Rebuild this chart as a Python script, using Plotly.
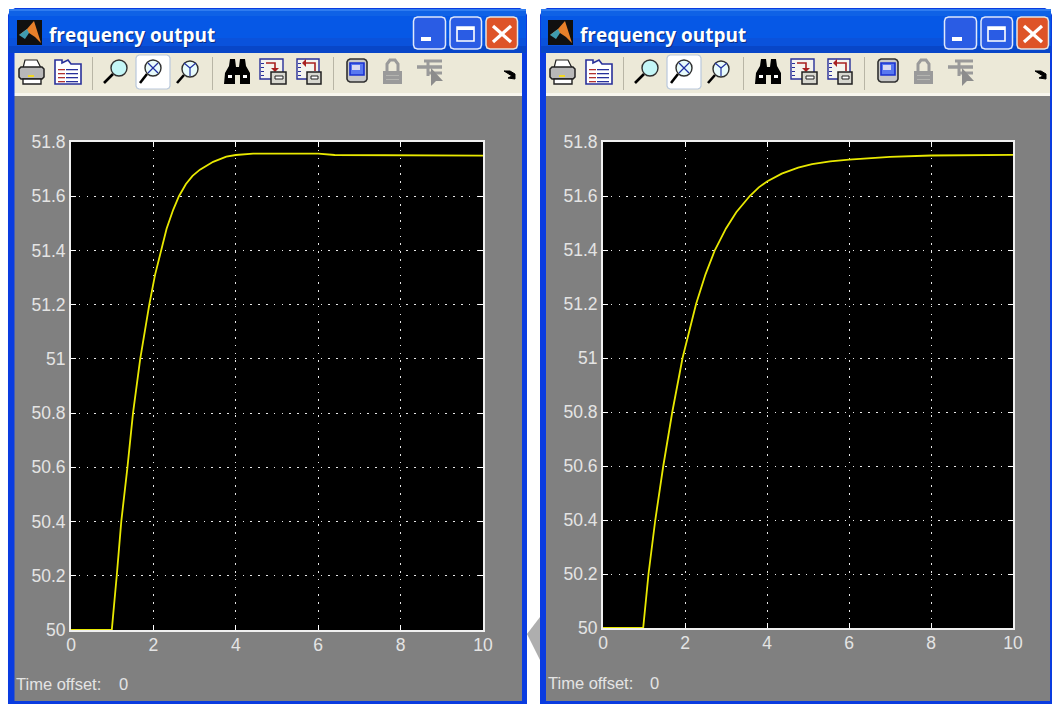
import plotly.graph_objects as go

W, H = 1052, 704

# ---- data ----
title_text = "frequency output"
x_ticks = [0, 2, 4, 6, 8, 10]
y_ticks = [50, 50.2, 50.4, 50.6, 50.8, 51, 51.2, 51.4, 51.6, 51.8]
y_tick_labels = ["50", "50.2", "50.4", "50.6", "50.8", "51", "51.2", "51.4", "51.6", "51.8"]

left_t = [0, 0.99, 1.11, 1.22, 1.37, 1.505, 1.68, 1.90, 2.04, 2.18, 2.32, 2.48, 2.62, 2.79, 2.95, 3.13, 3.45, 3.77, 4.0, 4.42, 5.0, 6.0, 6.4, 8.0, 10.0]
left_v = [50, 50, 50.2, 50.4, 50.6, 50.8, 51.0, 51.2, 51.31, 51.4, 51.48, 51.55, 51.6, 51.645, 51.675, 51.698, 51.727, 51.746, 51.752, 51.757, 51.758, 51.757, 51.752, 51.751, 51.75]

right_t = [0, 0.98, 1.11, 1.275, 1.47, 1.69, 1.94, 2.27, 2.5, 2.73, 3.0, 3.25, 3.58, 3.8, 4.0, 4.36, 4.76, 5.1, 5.54, 6.0, 7.0, 8.0, 10.0]
right_v = [50, 50, 50.2, 50.4, 50.6, 50.8, 51.0, 51.2, 51.31, 51.4, 51.48, 51.54, 51.6, 51.632, 51.654, 51.683, 51.705, 51.718, 51.728, 51.735, 51.745, 51.75, 51.752]

# ---- pixel layout ----
PANELS = [
    dict(dx=0, x0=71, x1=483, y0=142, y1=630, wx0=8, wx1=527, in0=14.5, in1=522, off=16, off0=119, offy=684),
    dict(dx=531, x0=603, x1=1013, y0=142, y1=628, wx0=540, wx1=1052, in0=546, in1=1050, off=548, off0=650, offy=683),
]

px = lambda v: v / W
py = lambda v: 1 - v / H

shapes, annos = [], []


def rect(x0, y0, x1, y1, fill, line=None, lw=1):
    shapes.append(dict(type="rect", xref="paper", yref="paper", layer="below",
                       x0=px(x0), x1=px(x1), y0=py(y0), y1=py(y1), fillcolor=fill,
                       line=dict(color=line or fill, width=lw if line else 0)))


def path(points, fill=None, line=None, lw=1, close=True):
    d = "M " + " L ".join(f"{px(a):.5f},{py(b):.5f}" for a, b in points) + (" Z" if close else "")
    shapes.append(dict(type="path", xref="paper", yref="paper", layer="below", path=d,
                       fillcolor=fill or "rgba(0,0,0,0)",
                       line=dict(color=line or "rgba(0,0,0,0)", width=lw if line else 0)))


def rrect(x0, y0, x1, y1, fill, line, lw=1.5, r=4):
    path([(x0 + r, y0), (x1 - r, y0), (x1 - 1, y0 + 1), (x1, y0 + r), (x1, y1 - r), (x1 - 1, y1 - 1), (x1 - r, y1),
          (x0 + r, y1), (x0 + 1, y1 - 1), (x0, y1 - r), (x0, y0 + r), (x0 + 1, y0 + 1)], fill=fill, line=line, lw=lw)


def circle(cx, cy, r, fill, line, lw=1.5):
    shapes.append(dict(type="circle", xref="paper", yref="paper", layer="below",
                       x0=px(cx - r), x1=px(cx + r), y0=py(cy - r), y1=py(cy + r), fillcolor=fill,
                       line=dict(color=line, width=lw)))


def text(x, y, s, size, color, anchor="left", bold=False, family="Liberation Sans"):
    annos.append(dict(xref="paper", yref="paper", x=px(x), y=py(y), text=f"<b>{s}</b>" if bold else s,
                      showarrow=False, xanchor=anchor, yanchor="middle",
                      font=dict(size=size, color=color, family=family), borderpad=0, borderwidth=0))


def magnifier(cx, cy, hx, hy, fill):
    path([(cx - 6, cy + 6), (hx, hy)], line="#000000", lw=2.6, close=False)
    circle(cx, cy, 8, fill, "#303030", 1.4)


def window(p):
    d, a, b = p["dx"], p["wx0"], p["wx1"]
    # blue frame with rounded top
    path([(a, 704), (a, 15), (a + 2, 11), (a + 7, 8), (b - 7, 8), (b - 2, 11), (b, 15), (b, 704)], fill="#0a3ce0")
    # title bar shading
    for y0, y1, c in [(9, 11, "#2f7cf0"), (11, 16, "#0f62e6"), (16, 38, "#0658e6"), (38, 46, "#0a52dc"), (46, 53, "#0846c8")]:
        rect(a + 1, y0, b - 1, y1, c)
    # toolbar and client area
    rect(p["in0"], 53, p["in1"], 93, "#ece9d8")
    rect(p["in0"], 93, p["in1"], 96, "#f8f6ee")
    rect(p["in0"], 96, p["in1"], 701, "#808080")
    # logo
    rect(d + 17, 20, d + 42, 45, "#101010")
    path([(d + 19, 35), (d + 27, 29), (d + 34, 21), (d + 41, 43), (d + 35, 37), (d + 29, 33)], fill="#e8802a")
    path([(d + 19, 35), (d + 27, 29), (d + 29, 33), (d + 25, 39)], fill="#3f9cb0")
    # title, with its shadow
    text(d + 50, 36, title_text, 19, "#0a2c80", bold=True, family="Open Sans")
    text(d + 49, 35, title_text, 19, "#ffffff", bold=True, family="Open Sans")
    # window buttons
    rrect(d + 413.5, 17, d + 445.5, 49, "#2a5ce4", "#dfe8fb")
    rrect(d + 450, 17, d + 481.5, 49, "#2a5ce4", "#dfe8fb")
    rrect(d + 486, 17, d + 517.5, 49, "#de5428", "#e8e4e0")
    rect(d + 421, 37, d + 431, 41, "#ffffff")
    shapes.append(dict(type="rect", xref="paper", yref="paper", layer="below", x0=px(d + 457), x1=px(d + 474),
                       y0=py(41), y1=py(27), fillcolor="rgba(0,0,0,0)", line=dict(color="#ffffff", width=1.6)))
    rect(d + 457, 27, d + 474, 30, "#ffffff")
    path([(d + 493, 26), (d + 511, 42)], line="#ffffff", lw=3.2, close=False)
    path([(d + 511, 26), (d + 493, 42)], line="#ffffff", lw=3.2, close=False)

    # toolbar: printer
    path([(d + 25, 60), (d + 37, 60), (d + 41, 68), (d + 23, 68)], fill="#ffffff", line="#202020", lw=1.2)
    rrect(d + 19, 67, d + 44, 79, "#b8b8b8", "#202020", 1.5, 2)
    rect(d + 23, 79, d + 41, 84, "#ffffff", "#202020", 1.4)
    rect(d + 28, 75, d + 34, 77, "#f0d820")
    # properties sheet
    path([(d + 55, 84), (d + 55, 60), (d + 62, 60), (d + 62, 63), (d + 68, 60), (d + 71, 64), (d + 81, 64), (d + 81, 84)],
         fill="#ffffff", line="#28309a", lw=1.6)
    for yy in (69, 73, 77, 81):
        rect(d + 58, yy, d + 65, yy + 1.3, "#b03030")
        rect(d + 66, yy, d + 78, yy + 1.3, "#28309a")
    # separators
    for sx in (92, 212, 333):
        rect(d + sx, 57, d + sx + 1, 90, "#b8b5a5")
    # zoom buttons
    rrect(d + 136, 55, d + 170, 89, "#ffffff", "#b9c8dc", 1.2, 3)
    magnifier(d + 119, 68, d + 104, 83, "#c4f6f6")
    magnifier(d + 153, 68, d + 140, 83, "#e8fbfb")
    path([(d + 148, 63), (d + 158, 73)], line="#2030a0", lw=1.2, close=False)
    path([(d + 158, 63), (d + 148, 73)], line="#2030a0", lw=1.2, close=False)
    magnifier(d + 190, 69, d + 177, 83, "#e8fbfb")
    path([(d + 190, 68), (d + 190, 76)], line="#2030a0", lw=1.2, close=False)
    path([(d + 190, 68), (d + 184, 63)], line="#2030a0", lw=1.2, close=False)
    path([(d + 190, 68), (d + 196, 63)], line="#2030a0", lw=1.2, close=False)
    # binoculars
    path([(d + 224, 84), (d + 225, 73), (d + 229, 66), (d + 230, 59), (d + 235, 59), (d + 236, 67), (d + 239, 67), (d + 240, 59),
          (d + 245, 59), (d + 246, 66), (d + 250, 73), (d + 250, 84), (d + 240, 84), (d + 240, 75), (d + 235, 75), (d + 235, 84)], fill="#000000")
    rect(d + 228, 75, d + 232, 78, "#ffffff")
    rect(d + 243, 75, d + 247, 78, "#ffffff")
    # save axes
    rect(d + 260, 59, d + 283, 79, "#f4f4ee", "#28309a", 1.4)
    for tk in (63, 67, 71, 75):
        rect(d + 261, tk, d + 264, tk + 1, "#28309a")
    path([(d + 266, 63), (d + 275, 63), (d + 275, 70)], line="#a82020", lw=1.6, close=False)
    path([(d + 271, 68), (d + 279, 68), (d + 275, 72)], fill="#a82020")
    rect(d + 271, 72, d + 286, 84, "#d8d8d0", "#202020", 1.5)
    rect(d + 275, 76, d + 283, 79, "#ffffff", "#202020", 1)
    # load axes
    rect(d + 297, 59, d + 319, 79, "#f4f4ee", "#28309a", 1.4)
    for tk in (63, 67, 71, 75):
        rect(d + 298, tk, d + 301, tk + 1, "#28309a")
    path([(d + 305, 63), (d + 315, 63), (d + 315, 71)], line="#a82020", lw=1.6, close=False)
    path([(d + 306, 59), (d + 306, 67), (d + 302, 63)], fill="#a82020")
    rect(d + 307, 72, d + 321, 84, "#d8d8d0", "#202020", 1.5)
    rect(d + 311, 76, d + 318, 79, "#ffffff", "#202020", 1)
    # floating scope button
    rrect(d + 347, 59, d + 367, 82, "#c8c8c8", "#303030", 1.6, 3)
    rect(d + 350, 63, d + 364, 75, "#5878f0", "#1830d0", 1.6)
    rect(d + 352, 65, d + 360, 70, "#d8d8f0")
    # lock (disabled)
    rect(d + 383, 71, d + 402, 84, "#9a9a9a")
    path([(d + 387, 71), (d + 387, 64), (d + 390, 60), (d + 395, 60), (d + 398, 64), (d + 398, 71)], line="#9a9a9a", lw=3, close=False)
    rect(d + 386, 75, d + 399, 76, "#b4b4b0")
    rect(d + 386, 79, d + 399, 80, "#b4b4b0")
    # signal selector (disabled)
    path([(d + 417, 67), (d + 442, 67)], line="#9a9a9a", lw=3.5, close=False)
    path([(d + 424, 61), (d + 442, 61)], line="#9a9a9a", lw=3, close=False)
    path([(d + 428, 73), (d + 442, 73)], line="#9a9a9a", lw=3, close=False)
    path([(d + 428, 60), (d + 428, 76)], line="#9a9a9a", lw=3, close=False)
    path([(d + 431, 68), (d + 431, 86), (d + 436, 81), (d + 443, 81)], fill="#8c8c8c")
    # overflow arrow
    path([(d + 504, 71), (d + 510, 71), (d + 515, 74), (d + 515, 79), (d + 508, 78), (d + 512, 76)], fill="#000000", line="#000000", lw=1)
    # plot background
    rect(p["x0"], p["y0"], p["x1"], p["y1"], "#000000")
    # time offset readout
    text(p["off"], p["offy"], "Time offset:", 16.5, "#e4e4e4")
    text(p["off0"], p["offy"], "0", 16.5, "#e4e4e4")


for p in PANELS:
    window(p)

# little grey wedge between the windows
path([(540, 617), (527, 634), (540, 660)], fill="#aeaeae")

fig = go.Figure()
fig.add_trace(go.Scatter(x=left_t, y=left_v, mode="lines", line=dict(color="#e8e800", width=1.8),
                         xaxis="x", yaxis="y", hoverinfo="skip", showlegend=False))
fig.add_trace(go.Scatter(x=right_t, y=right_v, mode="lines", line=dict(color="#e8e800", width=1.8),
                         xaxis="x2", yaxis="y2", hoverinfo="skip", showlegend=False))


def x_axis(p, anchor):
    return dict(domain=[px(p["x0"]), px(p["x1"])], range=[0, 10], anchor=anchor, tickmode="array", automargin=False,
                tickvals=x_ticks, ticktext=[str(v) for v in x_ticks], ticks="inside", ticklen=5, tickcolor="#ffffff",
                ticklabelstandoff=-2,
                tickfont=dict(family="Liberation Sans", size=17.5, color="#e4e4e4"), showline=True, linecolor="#f0f0f0",
                linewidth=2, mirror="ticks", showgrid=True, gridcolor="#e8e8e8", gridwidth=1.4,
                griddash="1.6px,6.2px", zeroline=False, fixedrange=True)


def y_axis(p, anchor):
    return dict(domain=[py(p["y1"]), py(p["y0"])], range=[50, 51.8], anchor=anchor, tickmode="array", automargin=False,
                tickvals=y_ticks, ticktext=y_tick_labels, ticks="inside", ticklen=5, tickcolor="#ffffff",
                tickfont=dict(family="Liberation Sans", size=17.5, color="#e4e4e4"), showline=True, linecolor="#f0f0f0",
                linewidth=2, mirror="ticks", showgrid=True, gridcolor="#e8e8e8", gridwidth=1.4,
                griddash="1.6px,6.2px", zeroline=False, fixedrange=True)


fig.update_layout(
    width=W, height=H, autosize=False, margin=dict(l=0, r=0, t=0, b=0, pad=0, autoexpand=False),
    paper_bgcolor="#ffffff", plot_bgcolor="rgba(0,0,0,0)", showlegend=False,
    xaxis=x_axis(PANELS[0], "y"), yaxis=y_axis(PANELS[0], "x"),
    xaxis2=x_axis(PANELS[1], "y2"), yaxis2=y_axis(PANELS[1], "x2"),
    shapes=shapes, annotations=annos,
)

fig.write_html("out.html", config=dict(displayModeBar=False),
               post_script="document.body.style.margin='0';document.body.style.overflow='hidden';")
